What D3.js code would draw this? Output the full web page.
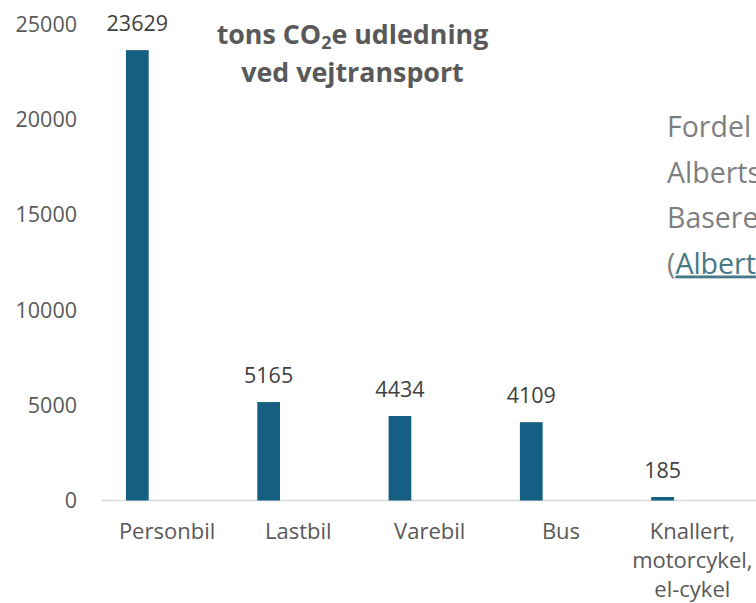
<!DOCTYPE html>
<html><head><meta charset="utf-8">
<script src="https://cdn.jsdelivr.net/npm/d3@7"></script>
<style>
html,body{margin:0;padding:0;background:#fff;overflow:hidden}
svg{display:block}
</style></head>
<body>
<svg id="chart" width="756" height="603"></svg>
<script>
const categories = ["Personbil","Lastbil","Varebil","Bus","Knallert, motorcykel, el-cykel"];
const categoryLines = [["Personbil"],["Lastbil"],["Varebil"],["Bus"],["Knallert,","motorcykel,","el-cykel"]];
const values = [23629, 5165, 4434, 4109, 185];
const yTicks = [0, 5000, 10000, 15000, 20000, 25000];
const titleLines = ["tons CO₂e udledning", "ved vejtransport"];
const sideText = ["Fordel", "Alberts", "Basere"];
const sideLinkPrefix = "(";
const sideLink = "Albert";

const svg = d3.select("#chart");
const font = "'Open Sans', 'Liberation Sans', sans-serif";
const textColor = "#595959";

const x = d3.scaleBand().domain(categories).range([101.4, 758]).paddingInner(0).paddingOuter(0);
const y = d3.scaleLinear().domain([0, 25000]).range([500.5, 24]);

// axis line
svg.append("line").attr("x1", x.range()[0]).attr("x2", 756)
  .attr("y1", y(0)).attr("y2", y(0)).attr("stroke", "#d9d9d9").attr("stroke-width", 1.5);

// y tick labels
svg.append("g").selectAll("text").data(yTicks).join("text")
  .attr("x", 77).attr("y", d => y(d)).attr("dy", "0.36em")
  .attr("text-anchor", "end").attr("font-family", font).attr("font-size", 21.5)
  .attr("fill", textColor).text(d => d);

const bw = x.bandwidth();
const barOff = bw * 0.187, barW = bw * 0.173;

// bars
svg.append("g").selectAll("rect").data(values).join("rect")
  .attr("x", (d, i) => x(categories[i]) + barOff)
  .attr("width", barW)
  .attr("y", d => y(d))
  .attr("height", d => y(0) - y(d))
  .attr("fill", "#156082");

// value labels
svg.append("g").selectAll("text").data(values).join("text")
  .attr("x", (d, i) => x(categories[i]) + barOff + barW / 2)
  .attr("y", d => y(d) - 19)
  .attr("text-anchor", "middle").attr("font-family", font).attr("font-size", 21.5)
  .attr("fill", "#404040").text(d => d);

// category labels
const cat = svg.append("g").selectAll("text").data(categoryLines).join("text")
  .attr("text-anchor", "middle").attr("font-family", font).attr("font-size", 22)
  .attr("fill", textColor);
cat.each(function(lines, i) {
  const t = d3.select(this);
  lines.forEach((l, j) => {
    t.append("tspan").attr("x", x(categories[i]) + bw / 2).attr("y", 539 + j * 29).text(l);
  });
});

// title
const title = svg.append("text").attr("text-anchor", "middle").attr("font-family", font)
  .attr("font-size", 26.8).attr("font-weight", "bold").attr("fill", textColor);
title.append("tspan").attr("x", 352.5).attr("y", 43.5).text("tons CO");
title.append("tspan").attr("font-size", 18).attr("dy", 5).text("2");
title.append("tspan").attr("dy", -5).text("e udledning");
title.append("tspan").attr("x", 352.5).attr("y", 81.5).text(titleLines[1]);

// side text (partially visible)
const side = svg.append("g").attr("font-family", font).attr("font-size", 28.5).attr("fill", "#7f7f7f");
sideText.forEach((s, i) => {
  side.append("text").attr("x", 667).attr("y", 137 + i * 45.5).text(s);
});
const lt = side.append("text").attr("x", 667).attr("y", 137 + 3 * 45.5);
lt.append("tspan").text(sideLinkPrefix);
lt.append("tspan").attr("fill", "#467886").attr("text-decoration", "underline").text(sideLink);
</script>
</body></html>
